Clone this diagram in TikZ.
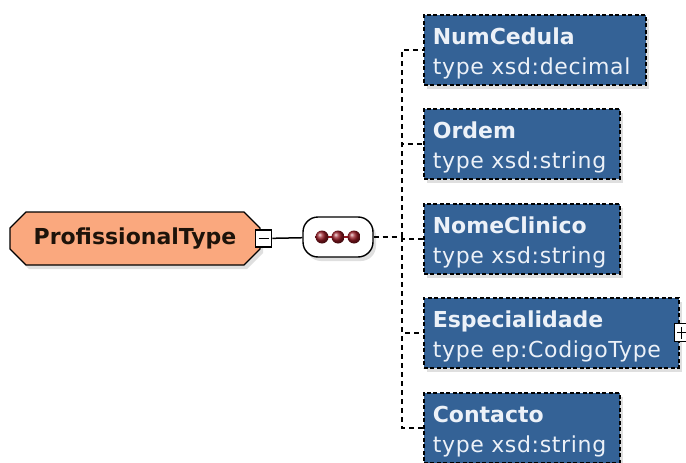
\documentclass[tikz,border=0pt]{standalone}
\usepackage{fontspec}
\setmainfont{DejaVu Sans}
\newfontfamily\typefont[LetterSpace=3]{DejaVu Sans}
\usetikzlibrary{shapes.misc,shadows}
\definecolor{elemblue}{RGB}{52,98,150}
\definecolor{typeorange}{RGB}{250,168,126}
\definecolor{elemtext}{RGB}{236,241,248}
\definecolor{dotred}{RGB}{150,25,35}
\newcommand{\elemlabel}[2]{\textbf{#1}\\\mbox{\typefont #2}}
\begin{document}
\begin{tikzpicture}[x=1pt, y=-1pt,
  font=\fontsize{22}{30}\selectfont,
  root/.style={chamfered rectangle, chamfered rectangle xsep=8pt,
    chamfered rectangle ysep=8pt, draw, line width=1.4pt, fill=typeorange,
    minimum width=250pt, minimum height=53pt, inner sep=0pt,
    text=black!85!brown, font=\fontsize{22}{30}\selectfont\bfseries,
    drop shadow={opacity=0.25, shadow xshift=3pt, shadow yshift=-4pt}},
  seqbox/.style={draw, line width=1.4pt, fill=white, rounded corners=15pt,
    minimum width=70pt, minimum height=40pt,
    drop shadow={opacity=0.25, shadow xshift=3pt, shadow yshift=-4pt}},
  elem/.style={draw, line width=1.6pt, dash pattern=on 4pt off 2.5pt,
    fill=elemblue, text=elemtext,
    anchor=north west, align=left, inner xsep=9pt, inner ysep=4pt,
    text height=26pt, text depth=36pt,
    drop shadow={opacity=0.25, shadow xshift=3pt, shadow yshift=-4pt}},
  expander/.style={draw, line width=1.2pt, fill=white, minimum width=16pt,
    minimum height=17pt, inner sep=0pt},
  link/.style={line width=1.5pt, dash pattern=on 5pt off 4pt}]

\path[use as bounding box] (0,0) rectangle (686,463);

\node[root] (prof) at (135,238.5) {ProfissionalType};
\node[expander, path picture={
    \draw[line width=1.2pt] ([xshift=3pt]path picture bounding box.west)
      -- ([xshift=-3pt]path picture bounding box.east);}]
  (minus) at ([xshift=3pt]prof.east) {};

\node[seqbox] (seq) at (338,237) {};
\draw[dotred, line width=1.8pt] ([xshift=-16pt]seq.center) -- ([xshift=16pt]seq.center);
\foreach \dx in {-16,0,16}
  \shade[ball color=dotred] ([xshift=\dx pt]seq.center) circle (6.5pt);

\node[elem, text width=204pt] (num) at (423,14)
  {\elemlabel{NumCedula}{type xsd:decimal}};
\node[elem, text width=178pt] (ord) at (423,108)
  {\elemlabel{Ordem}{type xsd:string}};
\node[elem, text width=178pt] (nome) at (423,203)
  {\elemlabel{NomeClinico}{type xsd:string}};
\node[elem, text width=237pt] (esp) at (423,297)
  {\elemlabel{Especialidade}{type ep:CodigoType}};
\node[elem, text width=178pt] (cont) at (423,392)
  {\elemlabel{Contacto}{type xsd:string}};

\node[expander, minimum width=15pt, minimum height=18pt, path picture={
    \draw[line width=1.2pt] ([xshift=3pt]path picture bounding box.west)
      -- ([xshift=-3pt]path picture bounding box.east);
    \draw[line width=1.2pt] ([yshift=-3pt]path picture bounding box.north)
      -- ([yshift=3pt]path picture bounding box.south);}]
  (plus) at ([xshift=2pt]esp.east) {};

\coordinate (trunk) at (402,237);
\draw[line width=1.5pt] (minus) -- (seq);
\draw[link] (seq) -- (trunk);
\foreach \n in {num,ord,nome,esp,cont}
  \draw[link] (trunk) |- (\n.west);
\end{tikzpicture}
\end{document}
